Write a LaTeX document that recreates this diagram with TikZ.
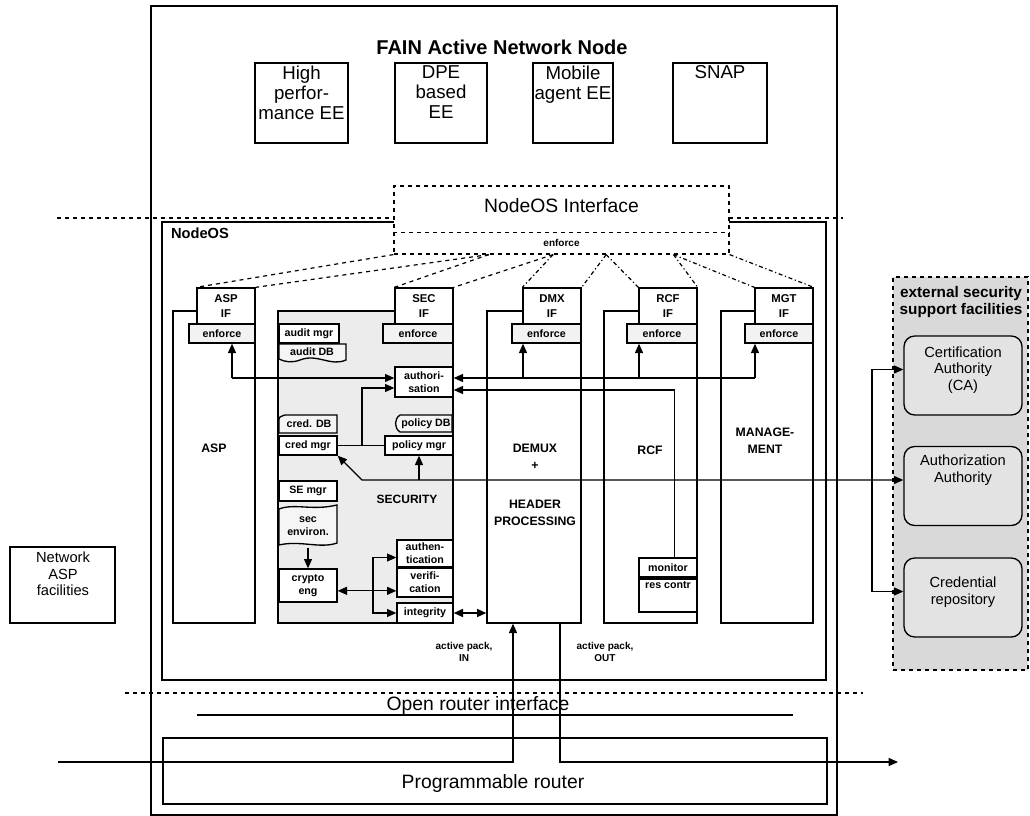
\documentclass[tikz,border=0pt]{standalone}
\usepackage{fontspec}
\setmainfont{Liberation Sans}
\usetikzlibrary{arrows.meta, positioning, calc}

\begin{document}
\begin{tikzpicture}[
    x=0.75pt, y=-0.75pt,
    line width=0.9pt,
    >={Triangle[length=7pt, width=6pt]},
    sz/.style 2 args={minimum width=#1*0.75pt, minimum height=#2*0.75pt},
    box/.style={draw, fill=white, inner sep=0pt, align=center},
    ee box/.style={box, sz={#1}{80}},
    if box/.style={box, line width=1pt, sz={58}{36}, font=\bfseries\fontsize{8.5}{11}\selectfont},
    enforce box/.style={box, line width=1pt, fill=gray!10, sz={#1}{19}, font=\bfseries\fontsize{8}{9}\selectfont},
    col box/.style={draw, line width=1pt, inner sep=0pt, sz={#1}{312}},
    sec box/.style={box, line width=1pt, font=\bfseries\fontsize{8}{10}\selectfont},
    sec text/.style={font=\bfseries\fontsize{8}{10}\selectfont, align=center, inner sep=0pt},
    col label/.style={font=\bfseries\fontsize{9.2}{13}\selectfont, align=center},
    ext box/.style={draw, line width=1pt, rounded corners=8pt, fill=gray!22, inner sep=0pt, sz={118}{79}},
    ext text/.style={font=\fontsize{11}{12.5}\selectfont, align=center},
    big text/.style={font=\fontsize{14.5}{15}\selectfont, align=center},
    ee text/.style={font=\fontsize{14}{15}\selectfont, align=center, inner sep=2pt},
    pack text/.style={font=\bfseries\fontsize{7.5}{9.5}\selectfont, align=center}
]
    \useasboundingbox (0,0) rectangle (1030,816);

    % FAIN node and execution environments
    \draw (151,6) rectangle (837,815);
    \node[font=\bfseries\fontsize{15}{17}\selectfont] (title) at (502,47) {FAIN Active Network Node};
    \node[ee box=93, label={[anchor=north, ee text]north:High\\perfor-\\mance EE}] (hp_ee) at (301.5,103) {};
    \node[ee box=92, label={[anchor=north, ee text]north:DPE\\based\\EE}] (dpe_ee) at (441,103) {};
    \node[ee box=80, label={[anchor=north, ee text]north:Mobile\\agent EE}] (mob_ee) at (573,103) {};
    \node[ee box=94, label={[anchor=north, ee text]north:SNAP}] (snap_ee) at (720,103) {};

    % NodeOS and its interface
    \draw[dashed] (57,218) -- (843,218);
    \node[draw, inner sep=0pt, sz={664}{458}] (nodeos) at (494,451) {};
    \node[font=\bfseries\fontsize{11}{13}\selectfont, anchor=west] (nodeos_lbl) at (166,233) {NodeOS};
    \node[box, dashed, sz={335}{68}] (nif) at (561.5,220) {};
    \draw[dashed] ([yshift=16.5pt]nif.south west) -- ([yshift=16.5pt]nif.south east);
    \node[big text] (nif_txt) at (561.5,206) {NodeOS Interface};
    \node[font=\bfseries\fontsize{7.5}{9}\selectfont] (nif_enf) at (561.5,243) {enforce};

    % columns
    \node[col box=82] (asp_col) at (214,467) {};
    \node[col box=175, fill=gray!15] (sec_col) at (365.5,467) {};
    \node[col box=94] (dmx_col) at (534,467) {};
    \node[col box=93] (rcf_col) at (650.5,467) {};
    \node[col box=92] (mgt_col) at (767,467) {};

    \node[if box] (asp_if) at (226,306) {ASP\\IF};
    \node[if box] (sec_if) at (424,306) {SEC\\IF};
    \node[if box] (dmx_if) at (552,306) {DMX\\IF};
    \node[if box] (rcf_if) at (668,306) {RCF\\IF};
    \node[if box] (mgt_if) at (784,306) {MGT\\IF};

    \node[enforce box=66] (asp_enf) at (222,333.5) {enforce};
    \node[enforce box=70] (sec_enf) at (418,333.5) {enforce};
    \node[enforce box=69] (dmx_enf) at (546.5,333.5) {enforce};
    \node[enforce box=70] (rcf_enf) at (662,333.5) {enforce};
    \node[enforce box=68] (mgt_enf) at (779,333.5) {enforce};

    \foreach \n/\p/\q in {asp/0/0.284, sec/0.284/0.475} {
        \draw[dashed] ($(nif.south west)!\p!(nif.south east)$) -- (\n_if.north west);
        \draw[dashed] ($(nif.south west)!\q!(nif.south east)$) -- (\n_if.north east);
    }
    \foreach \n/\p/\q in {dmx/0.475/0.633, rcf/0.633/0.833, mgt/0.833/1} {
        \draw[dash dot] ($(nif.south west)!\p!(nif.south east)$) -- (\n_if.north west);
        \draw[dash dot] ($(nif.south west)!\q!(nif.south east)$) -- (\n_if.north east);
    }

    \node[col label] (asp_lbl) at (214,448) {ASP};
    \node[col label] (dmx_lbl) at (535,457) {DEMUX\\+};
    \node[col label] (hdr_lbl) at (535,513) {HEADER\\PROCESSING};
    \node[col label] (rcf_lbl) at (650,450) {RCF};
    \node[col label] (mgt_lbl) at (765,441) {MANAGE-\\MENT};

    % security internals
    \node[sec box, sz={60}{19}] (audit_mgr) at (309,333.5) {audit mgr};
    \draw[line width=1pt, fill=gray!8] (279,344) -- (346,344) -- (346,360) .. controls (330,367) and (318,353) .. (300,360) .. controls (292,363) and (285,362) .. (279,359) -- cycle;
    \node[sec text] (audit_db) at (312,352) {audit DB};
    \draw[line width=1pt, fill=gray!8] (285,415) -- (337,415) -- (337,433) -- (279,433) -- (279,421) .. controls (279,417) .. (285,415) -- cycle;
    \node[sec text] (cred_db) at (309,424) {cred. DB};
    \node[sec box, sz={58}{19}] (cred_mgr) at (308,445.5) {cred mgr};
    \node[sec box, sz={58}{20}] (se_mgr) at (308,491) {SE mgr};
    \draw[line width=1pt, fill=gray!8] (279,509) .. controls (295,503) and (312,511) .. (337,505) -- (337,543) .. controls (320,549) and (300,540) .. (279,545) -- cycle;
    \node[sec text, sz={58}{42}] (sec_env) at (308,526) {sec\\environ.};
    \node[sec box, sz={58}{33}] (crypto) at (308,585.5) {crypto\\eng};

    \node[sec box, sz={58}{30}] (authz) at (424,382) {authori-\\sation};
    \draw[line width=1pt, fill=gray!8] (400,415) -- (452,415) -- (452,432) -- (400,432) .. controls (394,428) and (394,419) .. (400,415) -- cycle;
    \node[sec text] (pol_db) at (426,423.5) {policy DB};
    \node[sec box, sz={68}{19}] (pol_mgr) at (419,445.5) {policy mgr};
    \node[font=\bfseries\fontsize{9}{11}\selectfont] (sec_lbl) at (407,499) {SECURITY};
    \node[sec box, sz={56}{27}] (authn) at (425,553.5) {authen-\\tication};
    \node[sec box, sz={56}{29}] (verif) at (425,582.5) {verifi-\\cation};
    \node[sec box, sz={56}{20}] (integ) at (425,613) {integrity};

    % resource control
    \node[sec box, sz={58}{19}] (monitor) at (668,567.5) {monitor};
    \node[sec box, sz={58}{33}, label={[anchor=north, sec text, yshift=-2pt]north:res contr}] (res_ctl) at (668,595.5) {};

    % enforcement and authorisation paths
    \coordinate (aj) at (232,378);
    \draw[->] (aj) -- (aj |- asp_enf.south);
    \draw[->] (aj) -- (aj -| authz.west);
    \coordinate (bj) at (755,378);
    \draw[->] (bj) -- (bj -| authz.east);
    \foreach \n/\x in {dmx/523, rcf/639, mgt/755}
        \draw[->] (\x,378) -- (\x,378 |- \n_enf.south);
    \draw[->] ([xshift=5pt]monitor.north) |- ([yshift=-6pt]authz.east);
    \coordinate (cj) at (362,445.5);
    \draw (cred_mgr.east) -- (pol_mgr.west);
    \draw[->] (cj) |- ([yshift=-4.5pt]authz.west);

    % crypto paths
    \draw[->] (sec_env.south) -- (crypto.north);
    \draw[<->] ([yshift=-4pt]crypto.east) -- ([yshift=-4pt]crypto.east -| verif.west);
    \coordinate (vj) at (373,613);
    \draw[<->] ([yshift=-3pt]authn.west) -| (vj) -- (integ.west);
    \draw[<->, line width=1.2pt] (integ.east) -- (integ.east -| dmx_col.west);

    % packets
    \coordinate (pk_in) at (58,762);
    \coordinate (pk_out) at (898,762);
    \draw[->] (pk_in) -| ([xshift=-15.75pt]dmx_col.south);
    \draw[->] ([xshift=19.5pt]dmx_col.south) |- (pk_out);
    \node[pack text] (in_lbl) at (464,652) {active pack,\\IN};
    \node[pack text] (out_lbl) at (605,652) {active pack,\\OUT};

    % router
    \draw[dashed] (125,693) -- (863,693);
    \node[big text] (ori) at (478,705) {Open router interface};
    \draw[line width=2pt] (197,715) -- (793,715);
    \node[draw, inner sep=0pt, sz={664}{66}] (router) at (495,771) {};
    \node[big text] (router_txt) at (493,783) {Programmable router};

    % external security support facilities
    \node[draw, dashed, fill=gray!30, inner sep=0pt, sz={135}{393}] (ext) at (960.5,473.5) {};
    \node[font=\bfseries\fontsize{11.5}{13}\selectfont, align=center] (ext_title) at (961,302) {external security\\support facilities};
    \node[ext box] (ext_ca) at (963,375.5) {};
    \node[ext text] (ca_txt) at (963,370) {Certification\\Authority\\(CA)};
    \node[ext box] (ext_aa) at (963,486) {};
    \node[ext text] (aa_txt) at (963,470) {Authorization\\Authority};
    \node[ext box] (ext_cr) at (963,597.5) {};
    \node[ext text] (cr_txt) at (963,592) {Credential\\repository};

    % credentials and external facilities
    \coordinate (lj) at (362,480);
    \coordinate (ej) at (872,480);
    \draw[<->] (cred_mgr.south east) -- (lj) -- (lj -| ext_aa.west);
    \draw[->] (lj -| pol_mgr.south) -- (pol_mgr.south);
    \draw[->] (ej) |- ([yshift=4.5pt]ext_ca.west);
    \draw[->] (ej) |- ([yshift=4.5pt]ext_cr.west);

    % network ASP
    \node[box, sz={105}{76}] (nasp) at (62.5,585) {};
    \node[ext text] (nasp_txt) at (63,574) {Network\\ASP\\facilities};
\end{tikzpicture}
\end{document}
